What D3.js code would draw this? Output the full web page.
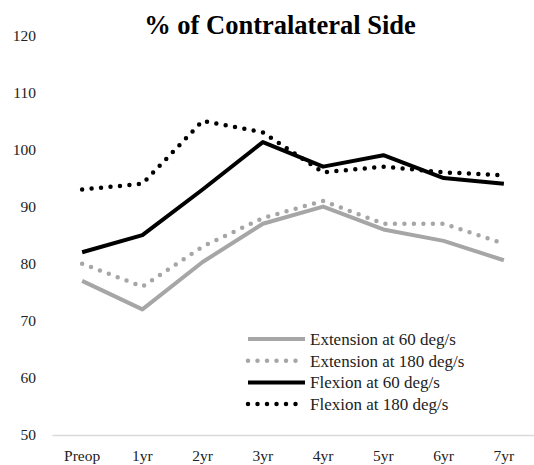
<!DOCTYPE html>
<html>
<head>
<meta charset="utf-8">
<script src="https://cdn.jsdelivr.net/npm/d3@7"></script>
<style>
  body { margin: 0; background: #fff; }
</style>
</head>
<body>
<div id="chart"></div>
<script>
const categories = ['Preop', '1yr', '2yr', '3yr', '4yr', '5yr', '6yr', '7yr']
const yTicks = [50, 60, 70, 80, 90, 100, 110, 120]

const extension60 = [77, 72, 80.3, 87, 90, 86, 84, 80.6]
const extension180 = [80, 76, 83, 88, 91, 87, 87, 83.5]
const flexion60 = [82, 85, 93, 101.3, 97, 99, 95, 94]
const flexion180 = [93, 94, 105, 103, 96, 97, 96, 95.5]

const seriesNames = ['Extension at 60 deg/s', 'Extension at 180 deg/s', 'Flexion at 60 deg/s', 'Flexion at 180 deg/s']

const w = 534
const h = 465
const serif = "'Liberation Serif', serif"

// series styles
const grey = '#a6a6a6'
const series = [
    { name: seriesNames[0], values: extension60, color: grey, dots: false },
    { name: seriesNames[1], values: extension180, color: grey, dots: true },
    { name: seriesNames[2], values: flexion60, color: '#000', dots: false },
    { name: seriesNames[3], values: flexion180, color: '#000', dots: true }
]

const svg = d3.select('#chart')
    .append('svg')
    .attr('width', w)
    .attr('height', h)
    .attr('font-family', serif)

const xScale = d3.scaleBand()
    .domain(categories)
    .range([52, 534])

const yScale = d3.scaleLinear()
    .domain([50, 120])
    .range([435, 35.3])

// title
svg.append('text')
    .attr('x', 280)
    .attr('y', 34)
    .attr('text-anchor', 'middle')
    .attr('font-family', serif)
    .attr('font-size', 26.5)
    .attr('font-weight', 'bold')
    .text('% of Contralateral Side')

// y axis labels only, no line
const yAxis = svg.append('g')
    .attr('transform', 'translate(36,0)')
    .call(d3.axisLeft(yScale).tickValues(yTicks).tickSize(0).tickPadding(0))
    .attr('font-family', serif)
yAxis.select('.domain').remove()
yAxis.selectAll('text')
    .attr('font-family', serif)
    .attr('font-size', 15.5)
    .attr('fill', '#222')

// x axis: light baseline
const xAxis = svg.append('g')
    .attr('transform', 'translate(0,435)')
    .call(d3.axisBottom(xScale).tickSize(0).tickPadding(15))
    .attr('font-family', serif)
xAxis.select('.domain')
    .attr('stroke', '#d9d9d9')
    .attr('stroke-width', 1.3)
xAxis.selectAll('text')
    .attr('font-family', serif)
    .attr('font-size', 15.5)
    .attr('fill', '#222')

const line = d3.line()
    .x((d, i) => xScale(categories[i]) + xScale.bandwidth() / 2)
    .y((d) => yScale(d))

function styleLine(sel, s) {
    sel.attr('fill', 'none')
        .attr('stroke', s.color)
        .attr('stroke-width', s.dots ? 4.5 : 4)
    if (s.dots) {
        sel.attr('stroke-dasharray', '0,9.5')
            .attr('stroke-linecap', 'round')
    } else {
        sel.attr('stroke-linejoin', 'round')
    }
}

series.forEach((s) => {
    svg.append('path')
        .datum(s.values)
        .attr('d', line)
        .call(styleLine, s)
})

// legend
const legend = svg.append('g')
series.forEach((s, i) => {
    const y = 339 + i * 21.7
    legend.append('line')
        .attr('x1', 248)
        .attr('x2', 305)
        .attr('y1', y)
        .attr('y2', y)
        .call(styleLine, s)
    legend.append('text')
        .attr('x', 310)
        .attr('y', y)
        .attr('dy', '0.35em')
        .attr('font-family', serif)
        .attr('font-size', 17)
        .attr('fill', '#222')
        .text(s.name)
})
</script>
</body>
</html>
